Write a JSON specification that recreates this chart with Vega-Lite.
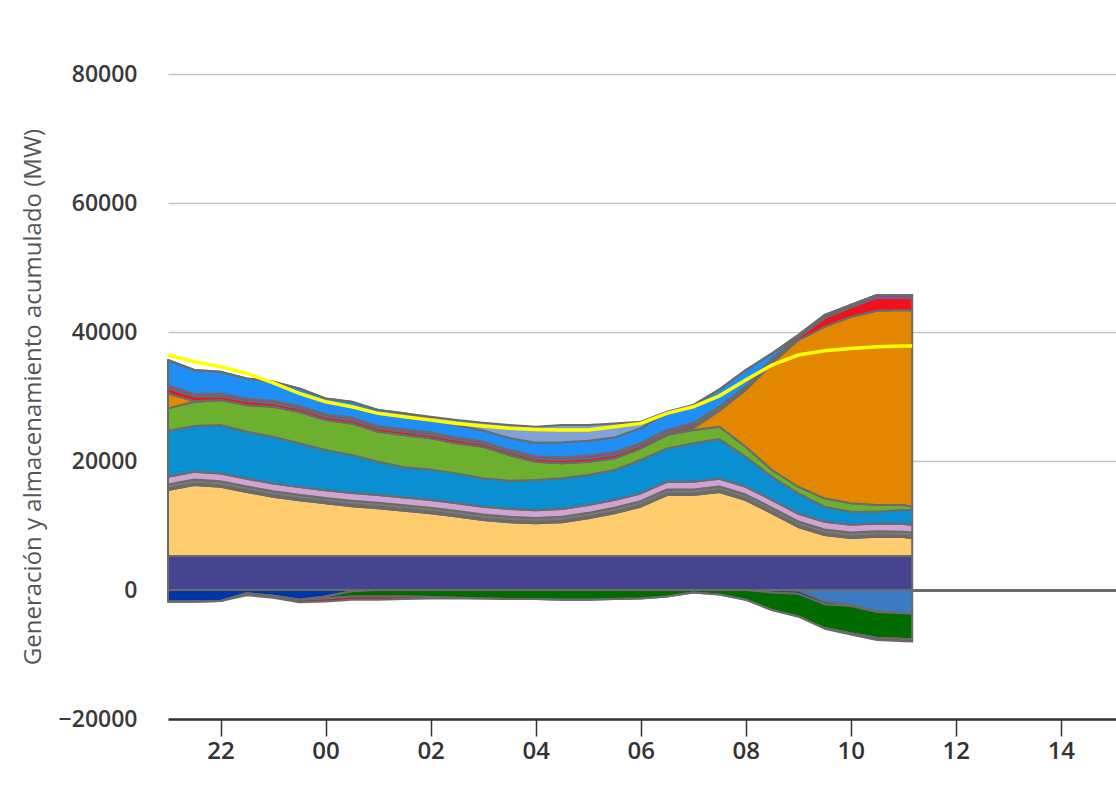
{
  "$schema": "https://vega.github.io/schema/vega-lite/v6.json",
  "width": 948,
  "height": 645,
  "autosize": "none",
  "padding": {"left": 168, "top": 74, "right": 0, "bottom": 75},
  "background": "white",
  "datasets": {
    "pos": [
      {"h":21,"s":"a","v":5270},{"h":21,"s":"b","v":10230},{"h":21,"s":"c","v":250},{"h":21,"s":"d","v":600},{"h":21,"s":"e","v":1200},{"h":21,"s":"f","v":7150},{"h":21,"s":"g","v":3460},{"h":21,"s":"h","v":2300},{"h":21,"s":"i","v":800},{"h":21,"s":"j","v":500},{"h":21,"s":"k","v":3890},{"h":21,"s":"l","v":0},
      {"h":21.5,"s":"a","v":5270},{"h":21.5,"s":"b","v":11000},{"h":21.5,"s":"c","v":250},{"h":21.5,"s":"d","v":600},{"h":21.5,"s":"e","v":1200},{"h":21.5,"s":"f","v":7100},{"h":21.5,"s":"g","v":3770},{"h":21.5,"s":"h","v":100},{"h":21.5,"s":"i","v":700},{"h":21.5,"s":"j","v":400},{"h":21.5,"s":"k","v":3710},{"h":21.5,"s":"l","v":0},
      {"h":22,"s":"a","v":5270},{"h":22,"s":"b","v":10730},{"h":22,"s":"c","v":250},{"h":22,"s":"d","v":600},{"h":22,"s":"e","v":1200},{"h":22,"s":"f","v":7530},{"h":22,"s":"g","v":3870},{"h":22,"s":"h","v":0},{"h":22,"s":"i","v":600},{"h":22,"s":"j","v":400},{"h":22,"s":"k","v":3390},{"h":22,"s":"l","v":0},
      {"h":22.5,"s":"a","v":5270},{"h":22.5,"s":"b","v":9930},{"h":22.5,"s":"c","v":250},{"h":22.5,"s":"d","v":600},{"h":22.5,"s":"e","v":1200},{"h":22.5,"s":"f","v":7290},{"h":22.5,"s":"g","v":4140},{"h":22.5,"s":"h","v":0},{"h":22.5,"s":"i","v":600},{"h":22.5,"s":"j","v":400},{"h":22.5,"s":"k","v":3130},{"h":22.5,"s":"l","v":0},
      {"h":23,"s":"a","v":5270},{"h":23,"s":"b","v":9200},{"h":23,"s":"c","v":250},{"h":23,"s":"d","v":600},{"h":23,"s":"e","v":1200},{"h":23,"s":"f","v":7250},{"h":23,"s":"g","v":4640},{"h":23,"s":"h","v":0},{"h":23,"s":"i","v":550},{"h":23,"s":"j","v":400},{"h":23,"s":"k","v":2930},{"h":23,"s":"l","v":0},
      {"h":23.5,"s":"a","v":5270},{"h":23.5,"s":"b","v":8630},{"h":23.5,"s":"c","v":250},{"h":23.5,"s":"d","v":600},{"h":23.5,"s":"e","v":1200},{"h":23.5,"s":"f","v":6790},{"h":23.5,"s":"g","v":4900},{"h":23.5,"s":"h","v":0},{"h":23.5,"s":"i","v":500},{"h":23.5,"s":"j","v":400},{"h":23.5,"s":"k","v":2720},{"h":23.5,"s":"l","v":0},
      {"h":24,"s":"a","v":5270},{"h":24,"s":"b","v":8160},{"h":24,"s":"c","v":250},{"h":24,"s":"d","v":600},{"h":24,"s":"e","v":1200},{"h":24,"s":"f","v":6220},{"h":24,"s":"g","v":4650},{"h":24,"s":"h","v":0},{"h":24,"s":"i","v":500},{"h":24,"s":"j","v":400},{"h":24,"s":"k","v":2460},{"h":24,"s":"l","v":0},
      {"h":24.5,"s":"a","v":5270},{"h":24.5,"s":"b","v":7730},{"h":24.5,"s":"c","v":250},{"h":24.5,"s":"d","v":600},{"h":24.5,"s":"e","v":1200},{"h":24.5,"s":"f","v":5880},{"h":24.5,"s":"g","v":4900},{"h":24.5,"s":"h","v":0},{"h":24.5,"s":"i","v":500},{"h":24.5,"s":"j","v":400},{"h":24.5,"s":"k","v":2460},{"h":24.5,"s":"l","v":0},
      {"h":25,"s":"a","v":5270},{"h":25,"s":"b","v":7390},{"h":25,"s":"c","v":250},{"h":25,"s":"d","v":600},{"h":25,"s":"e","v":1200},{"h":25,"s":"f","v":5180},{"h":25,"s":"g","v":4650},{"h":25,"s":"h","v":0},{"h":25,"s":"i","v":500},{"h":25,"s":"j","v":400},{"h":25,"s":"k","v":2460},{"h":25,"s":"l","v":0},
      {"h":25.5,"s":"a","v":5270},{"h":25.5,"s":"b","v":7030},{"h":25.5,"s":"c","v":250},{"h":25.5,"s":"d","v":600},{"h":25.5,"s":"e","v":1200},{"h":25.5,"s":"f","v":4670},{"h":25.5,"s":"g","v":5010},{"h":25.5,"s":"h","v":0},{"h":25.5,"s":"i","v":500},{"h":25.5,"s":"j","v":400},{"h":25.5,"s":"k","v":2460},{"h":25.5,"s":"l","v":0},
      {"h":26,"s":"a","v":5270},{"h":26,"s":"b","v":6620},{"h":26,"s":"c","v":250},{"h":26,"s":"d","v":600},{"h":26,"s":"e","v":1200},{"h":26,"s":"f","v":4760},{"h":26,"s":"g","v":4810},{"h":26,"s":"h","v":0},{"h":26,"s":"i","v":500},{"h":26,"s":"j","v":400},{"h":26,"s":"k","v":2160},{"h":26,"s":"l","v":300},
      {"h":26.5,"s":"a","v":5270},{"h":26.5,"s":"b","v":6130},{"h":26.5,"s":"c","v":250},{"h":26.5,"s":"d","v":600},{"h":26.5,"s":"e","v":1200},{"h":26.5,"s":"f","v":4630},{"h":26.5,"s":"g","v":4660},{"h":26.5,"s":"h","v":0},{"h":26.5,"s":"i","v":500},{"h":26.5,"s":"j","v":400},{"h":26.5,"s":"k","v":1910},{"h":26.5,"s":"l","v":800},
      {"h":27,"s":"a","v":5270},{"h":27,"s":"b","v":5580},{"h":27,"s":"c","v":250},{"h":27,"s":"d","v":600},{"h":27,"s":"e","v":1200},{"h":27,"s":"f","v":4410},{"h":27,"s":"g","v":4900},{"h":27,"s":"h","v":0},{"h":27,"s":"i","v":450},{"h":27,"s":"j","v":350},{"h":27,"s":"k","v":1720},{"h":27,"s":"l","v":1200},
      {"h":27.5,"s":"a","v":5270},{"h":27.5,"s":"b","v":5230},{"h":27.5,"s":"c","v":250},{"h":27.5,"s":"d","v":600},{"h":27.5,"s":"e","v":1200},{"h":27.5,"s":"f","v":4390},{"h":27.5,"s":"g","v":3990},{"h":27.5,"s":"h","v":0},{"h":27.5,"s":"i","v":450},{"h":27.5,"s":"j","v":350},{"h":27.5,"s":"k","v":1850},{"h":27.5,"s":"l","v":2000},
      {"h":28,"s":"a","v":5270},{"h":28,"s":"b","v":5060},{"h":28,"s":"c","v":250},{"h":28,"s":"d","v":600},{"h":28,"s":"e","v":1200},{"h":28,"s":"f","v":4670},{"h":28,"s":"g","v":2840},{"h":28,"s":"h","v":0},{"h":28,"s":"i","v":450},{"h":28,"s":"j","v":400},{"h":28,"s":"k","v":2100},{"h":28,"s":"l","v":2470},
      {"h":28.5,"s":"a","v":5270},{"h":28.5,"s":"b","v":5230},{"h":28.5,"s":"c","v":250},{"h":28.5,"s":"d","v":600},{"h":28.5,"s":"e","v":1200},{"h":28.5,"s":"f","v":4760},{"h":28.5,"s":"g","v":2330},{"h":28.5,"s":"h","v":0},{"h":28.5,"s":"i","v":500},{"h":28.5,"s":"j","v":450},{"h":28.5,"s":"k","v":2300},{"h":28.5,"s":"l","v":2690},
      {"h":29,"s":"a","v":5270},{"h":29,"s":"b","v":5840},{"h":29,"s":"c","v":250},{"h":29,"s":"d","v":600},{"h":29,"s":"e","v":1200},{"h":29,"s":"f","v":4670},{"h":29,"s":"g","v":2060},{"h":29,"s":"h","v":0},{"h":29,"s":"i","v":500},{"h":29,"s":"j","v":450},{"h":29,"s":"k","v":2300},{"h":29,"s":"l","v":2440},
      {"h":29.5,"s":"a","v":5270},{"h":29.5,"s":"b","v":6630},{"h":29.5,"s":"c","v":250},{"h":29.5,"s":"d","v":600},{"h":29.5,"s":"e","v":1200},{"h":29.5,"s":"f","v":4650},{"h":29.5,"s":"g","v":1810},{"h":29.5,"s":"h","v":0},{"h":29.5,"s":"i","v":500},{"h":29.5,"s":"j","v":450},{"h":29.5,"s":"k","v":2300},{"h":29.5,"s":"l","v":2170},
      {"h":30,"s":"a","v":5270},{"h":30,"s":"b","v":7650},{"h":30,"s":"c","v":250},{"h":30,"s":"d","v":600},{"h":30,"s":"e","v":1200},{"h":30,"s":"f","v":5180},{"h":30,"s":"g","v":1810},{"h":30,"s":"h","v":0},{"h":30,"s":"i","v":450},{"h":30,"s":"j","v":400},{"h":30,"s":"k","v":2280},{"h":30,"s":"l","v":1000},
      {"h":30.5,"s":"a","v":5270},{"h":30.5,"s":"b","v":9460},{"h":30.5,"s":"c","v":250},{"h":30.5,"s":"d","v":600},{"h":30.5,"s":"e","v":1200},{"h":30.5,"s":"f","v":5180},{"h":30.5,"s":"g","v":2070},{"h":30.5,"s":"h","v":0},{"h":30.5,"s":"i","v":400},{"h":30.5,"s":"j","v":400},{"h":30.5,"s":"k","v":2600},{"h":30.5,"s":"l","v":210},
      {"h":31,"s":"a","v":5270},{"h":31,"s":"b","v":9460},{"h":31,"s":"c","v":250},{"h":31,"s":"d","v":600},{"h":31,"s":"e","v":1200},{"h":31,"s":"f","v":5960},{"h":31,"s":"g","v":2060},{"h":31,"s":"h","v":300},{"h":31,"s":"i","v":400},{"h":31,"s":"j","v":400},{"h":31,"s":"k","v":2780},{"h":31,"s":"l","v":0},
      {"h":31.5,"s":"a","v":5270},{"h":31.5,"s":"b","v":9930},{"h":31.5,"s":"c","v":250},{"h":31.5,"s":"d","v":600},{"h":31.5,"s":"e","v":1200},{"h":31.5,"s":"f","v":6150},{"h":31.5,"s":"g","v":1910},{"h":31.5,"s":"h","v":2500},{"h":31.5,"s":"i","v":300},{"h":31.5,"s":"j","v":350},{"h":31.5,"s":"k","v":2640},{"h":31.5,"s":"l","v":0},
      {"h":32,"s":"a","v":5270},{"h":32,"s":"b","v":8680},{"h":32,"s":"c","v":250},{"h":32,"s":"d","v":600},{"h":32,"s":"e","v":1200},{"h":32,"s":"f","v":4660},{"h":32,"s":"g","v":1550},{"h":32,"s":"h","v":8790},{"h":32,"s":"i","v":300},{"h":32,"s":"j","v":300},{"h":32,"s":"k","v":2500},{"h":32,"s":"l","v":0},
      {"h":32.5,"s":"a","v":5270},{"h":32.5,"s":"b","v":6630},{"h":32.5,"s":"c","v":250},{"h":32.5,"s":"d","v":600},{"h":32.5,"s":"e","v":1200},{"h":32.5,"s":"f","v":3610},{"h":32.5,"s":"g","v":1040},{"h":32.5,"s":"h","v":16540},{"h":32.5,"s":"i","v":400},{"h":32.5,"s":"j","v":300},{"h":32.5,"s":"k","v":850},{"h":32.5,"s":"l","v":0},
      {"h":33,"s":"a","v":5270},{"h":33,"s":"b","v":4500},{"h":33,"s":"c","v":250},{"h":33,"s":"d","v":600},{"h":33,"s":"e","v":1200},{"h":33,"s":"f","v":3170},{"h":33,"s":"g","v":1020},{"h":33,"s":"h","v":22740},{"h":33,"s":"i","v":400},{"h":33,"s":"j","v":300},{"h":33,"s":"k","v":80},{"h":33,"s":"l","v":0},
      {"h":33.5,"s":"a","v":5270},{"h":33.5,"s":"b","v":3260},{"h":33.5,"s":"c","v":250},{"h":33.5,"s":"d","v":600},{"h":33.5,"s":"e","v":1200},{"h":33.5,"s":"f","v":2330},{"h":33.5,"s":"g","v":1300},{"h":33.5,"s":"h","v":26600},{"h":33.5,"s":"i","v":1300},{"h":33.5,"s":"j","v":400},{"h":33.5,"s":"k","v":120},{"h":33.5,"s":"l","v":0},
      {"h":34,"s":"a","v":5270},{"h":34,"s":"b","v":2790},{"h":34,"s":"c","v":250},{"h":34,"s":"d","v":600},{"h":34,"s":"e","v":1200},{"h":34,"s":"f","v":2030},{"h":34,"s":"g","v":1300},{"h":34,"s":"h","v":28920},{"h":34,"s":"i","v":1450},{"h":34,"s":"j","v":370},{"h":34,"s":"k","v":0},{"h":34,"s":"l","v":0},
      {"h":34.5,"s":"a","v":5270},{"h":34.5,"s":"b","v":2990},{"h":34.5,"s":"c","v":250},{"h":34.5,"s":"d","v":600},{"h":34.5,"s":"e","v":1200},{"h":34.5,"s":"f","v":1830},{"h":34.5,"s":"g","v":1040},{"h":34.5,"s":"h","v":30110},{"h":34.5,"s":"i","v":2000},{"h":34.5,"s":"j","v":440},{"h":34.5,"s":"k","v":0},{"h":34.5,"s":"l","v":0},
      {"h":35,"s":"a","v":5270},{"h":35,"s":"b","v":2930},{"h":35,"s":"c","v":250},{"h":35,"s":"d","v":600},{"h":35,"s":"e","v":1200},{"h":35,"s":"f","v":2150},{"h":35,"s":"g","v":780},{"h":35,"s":"h","v":30220},{"h":35,"s":"i","v":1900},{"h":35,"s":"j","v":430},{"h":35,"s":"k","v":0},{"h":35,"s":"l","v":0},
      {"h":35.17,"s":"a","v":5270},{"h":35.17,"s":"b","v":2790},{"h":35.17,"s":"c","v":250},{"h":35.17,"s":"d","v":600},{"h":35.17,"s":"e","v":1200},{"h":35.17,"s":"f","v":2290},{"h":35.17,"s":"g","v":510},{"h":35.17,"s":"h","v":30380},{"h":35.17,"s":"i","v":1950},{"h":35.17,"s":"j","v":460},{"h":35.17,"s":"k","v":0},{"h":35.17,"s":"l","v":0}
    ],
    "neg": [
      {"h":21,"s":"m","v":-1},{"h":21,"s":"n","v":-1800},{"h":21,"s":"o","v":-1},{"h":21,"s":"p","v":-1},
      {"h":21.5,"s":"m","v":-1},{"h":21.5,"s":"n","v":-1800},{"h":21.5,"s":"o","v":-1},{"h":21.5,"s":"p","v":-1},
      {"h":22,"s":"m","v":-1},{"h":22,"s":"n","v":-1700},{"h":22,"s":"o","v":-1},{"h":22,"s":"p","v":-1},
      {"h":22.5,"s":"m","v":-1},{"h":22.5,"s":"n","v":-500},{"h":22.5,"s":"o","v":-1},{"h":22.5,"s":"p","v":-300},
      {"h":23,"s":"m","v":-1},{"h":23,"s":"n","v":-900},{"h":23,"s":"o","v":-1},{"h":23,"s":"p","v":-300},
      {"h":23.5,"s":"m","v":-1},{"h":23.5,"s":"n","v":-1500},{"h":23.5,"s":"o","v":-1},{"h":23.5,"s":"p","v":-400},
      {"h":24,"s":"m","v":-1},{"h":24,"s":"n","v":-1000},{"h":24,"s":"o","v":-300},{"h":24,"s":"p","v":-500},
      {"h":24.5,"s":"m","v":-1},{"h":24.5,"s":"n","v":-200},{"h":24.5,"s":"o","v":-800},{"h":24.5,"s":"p","v":-500},
      {"h":25,"s":"m","v":-1},{"h":25,"s":"n","v":-1},{"h":25,"s":"o","v":-1000},{"h":25,"s":"p","v":-500},
      {"h":25.5,"s":"m","v":-1},{"h":25.5,"s":"n","v":-1},{"h":25.5,"s":"o","v":-1000},{"h":25.5,"s":"p","v":-400},
      {"h":26,"s":"m","v":-1},{"h":26,"s":"n","v":-1},{"h":26,"s":"o","v":-1100},{"h":26,"s":"p","v":-200},
      {"h":26.5,"s":"m","v":-1},{"h":26.5,"s":"n","v":-1},{"h":26.5,"s":"o","v":-1200},{"h":26.5,"s":"p","v":-100},
      {"h":27,"s":"m","v":-1},{"h":27,"s":"n","v":-1},{"h":27,"s":"o","v":-1300},{"h":27,"s":"p","v":-1},
      {"h":27.5,"s":"m","v":-1},{"h":27.5,"s":"n","v":-1},{"h":27.5,"s":"o","v":-1400},{"h":27.5,"s":"p","v":-1},
      {"h":28,"s":"m","v":-1},{"h":28,"s":"n","v":-1},{"h":28,"s":"o","v":-1400},{"h":28,"s":"p","v":-1},
      {"h":28.5,"s":"m","v":-1},{"h":28.5,"s":"n","v":-1},{"h":28.5,"s":"o","v":-1500},{"h":28.5,"s":"p","v":-1},
      {"h":29,"s":"m","v":-1},{"h":29,"s":"n","v":-1},{"h":29,"s":"o","v":-1500},{"h":29,"s":"p","v":-1},
      {"h":29.5,"s":"m","v":-1},{"h":29.5,"s":"n","v":-1},{"h":29.5,"s":"o","v":-1400},{"h":29.5,"s":"p","v":-1},
      {"h":30,"s":"m","v":-1},{"h":30,"s":"n","v":-1},{"h":30,"s":"o","v":-1300},{"h":30,"s":"p","v":-1},
      {"h":30.5,"s":"m","v":-1},{"h":30.5,"s":"n","v":-1},{"h":30.5,"s":"o","v":-1000},{"h":30.5,"s":"p","v":-1},
      {"h":31,"s":"m","v":-1},{"h":31,"s":"n","v":-1},{"h":31,"s":"o","v":-400},{"h":31,"s":"p","v":-1},
      {"h":31.5,"s":"m","v":-1},{"h":31.5,"s":"n","v":-1},{"h":31.5,"s":"o","v":-700},{"h":31.5,"s":"p","v":-1},
      {"h":32,"s":"m","v":-1},{"h":32,"s":"n","v":-1},{"h":32,"s":"o","v":-1500},{"h":32,"s":"p","v":-1},
      {"h":32.5,"s":"m","v":-1},{"h":32.5,"s":"n","v":-400},{"h":32.5,"s":"o","v":-2700},{"h":32.5,"s":"p","v":-1},
      {"h":33,"s":"m","v":-100},{"h":33,"s":"n","v":-500},{"h":33,"s":"o","v":-3500},{"h":33,"s":"p","v":-1},
      {"h":33.5,"s":"m","v":-1800},{"h":33.5,"s":"n","v":-400},{"h":33.5,"s":"o","v":-3700},{"h":33.5,"s":"p","v":-100},
      {"h":34,"s":"m","v":-2300},{"h":34,"s":"n","v":-200},{"h":34,"s":"o","v":-4200},{"h":34,"s":"p","v":-200},
      {"h":34.5,"s":"m","v":-3300},{"h":34.5,"s":"n","v":-100},{"h":34.5,"s":"o","v":-4000},{"h":34.5,"s":"p","v":-350},
      {"h":35,"s":"m","v":-3600},{"h":35,"s":"n","v":-1},{"h":35,"s":"o","v":-4000},{"h":35,"s":"p","v":-350},
      {"h":35.17,"s":"m","v":-3700},{"h":35.17,"s":"n","v":-1},{"h":35.17,"s":"o","v":-3900},{"h":35.17,"s":"p","v":-400}
    ],
    "dem": [
      {"h":21,"d":36430},{"h":21.5,"d":35390},{"h":22,"d":34610},{"h":22.5,"d":33590},{"h":23,"d":32130},{"h":23.5,"d":30490},
      {"h":24,"d":29190},{"h":24.5,"d":28410},{"h":25,"d":27390},{"h":25.5,"d":26870},{"h":26,"d":26350},{"h":26.5,"d":25830},
      {"h":27,"d":25420},{"h":27.5,"d":25060},{"h":28,"d":24900},{"h":28.5,"d":24800},{"h":29,"d":24800},{"h":29.5,"d":25310},
      {"h":30,"d":25830},{"h":30.5,"d":27390},{"h":31,"d":28410},{"h":31.5,"d":30100},{"h":32,"d":32550},{"h":32.5,"d":34880},
      {"h":33,"d":36430},{"h":33.5,"d":37090},{"h":34,"d":37460},{"h":34.5,"d":37710},{"h":35,"d":37820},{"h":35.17,"d":37820}
    ]
  },
  "encoding": {
    "x": {
      "field": "h",
      "type": "quantitative",
      "title": null,
      "scale": {"domain": [21, 39.05], "nice": false, "zero": false},
      "axis": {
        "values": [22, 24, 26, 28, 30, 32, 34, 36, 38],
        "labelExpr": "slice('0' + (datum.value % 24), -2)"
      }
    }
  },
  "layer": [
    {
      "data": {"name": "pos"},
      "mark": {"type": "area", "stroke": "#6b6b6b", "strokeWidth": 2, "strokeJoin": "round"},
      "encoding": {
        "y": {
          "field": "v",
          "type": "quantitative",
          "stack": "zero",
          "title": "Generación y almacenamiento acumulado (MW)",
          "scale": {"domain": [-20000, 80000], "nice": false},
          "axis": {
            "values": [-20000, 0, 20000, 40000, 60000, 80000],
            "format": "d",
            "gridColor": {"condition": {"test": "datum.value === 0", "value": "#6b6b6b"}, "value": "#c4c4c4"},
            "gridWidth": {"condition": {"test": "datum.value === 0", "value": 3}, "value": 1.5}
          }
        },
        "color": {
          "field": "s",
          "type": "nominal",
          "legend": null,
          "scale": {
            "domain": ["a","b","c","d","e","f","g","h","i","j","k","l","m","n","o","p"],
            "range": ["#47448f","#ffcc6e","#9c8a3a","#7a7a7a","#d1a3d0","#0a90d2","#6daf2e","#e38600","#f0101e","#9a30cf","#1f8ff5","#7fa2d7","#3a7bc4","#0035a8","#016b00","#b5232f"]
          }
        },
        "order": {"field": "s", "sort": "ascending"}
      }
    },
    {
      "data": {"name": "neg"},
      "mark": {"type": "area", "stroke": "#6b6b6b", "strokeWidth": 2, "strokeJoin": "round"},
      "encoding": {
        "y": {
          "field": "v",
          "type": "quantitative",
          "stack": "zero",
          "title": "Generación y almacenamiento acumulado (MW)",
          "scale": {"domain": [-20000, 80000], "nice": false},
          "axis": {
            "values": [-20000, 0, 20000, 40000, 60000, 80000],
            "format": "d",
            "gridColor": {"condition": {"test": "datum.value === 0", "value": "#6b6b6b"}, "value": "#c4c4c4"},
            "gridWidth": {"condition": {"test": "datum.value === 0", "value": 3}, "value": 1.5}
          }
        },
        "color": {
          "field": "s",
          "type": "nominal",
          "legend": null,
          "scale": {
            "domain": ["a","b","c","d","e","f","g","h","i","j","k","l","m","n","o","p"],
            "range": ["#47448f","#ffcc6e","#9c8a3a","#7a7a7a","#d1a3d0","#0a90d2","#6daf2e","#e38600","#f0101e","#9a30cf","#1f8ff5","#7fa2d7","#3a7bc4","#0035a8","#016b00","#b5232f"]
          }
        },
        "order": {"field": "s", "sort": "ascending"}
      }
    },
    {
      "data": {"name": "dem"},
      "mark": {"type": "line", "color": "#ffff00", "strokeWidth": 3.5},
      "encoding": {
        "y": {
          "field": "d",
          "type": "quantitative",
          "title": "Generación y almacenamiento acumulado (MW)",
          "scale": {"domain": [-20000, 80000], "nice": false}
        }
      }
    }
  ],
  "config": {
    "view": {"stroke": null},
    "axisX": {
      "grid": false,
      "domainColor": "#333333",
      "domainWidth": 2.5,
      "tickColor": "#333333",
      "tickWidth": 1.5,
      "tickSize": 17,
      "labelFont": "Open Sans",
      "labelFontWeight": 600,
      "labelFontSize": 24,
      "labelColor": "#333333",
      "labelPadding": 3
    },
    "axisY": {
      "domain": false,
      "ticks": false,
      "labelFont": "Open Sans",
      "labelFontWeight": 600,
      "labelFontSize": 23,
      "labelColor": "#3a3a3a",
      "labelPadding": 31,
      "titleFont": "Open Sans",
      "titleFontSize": 24,
      "titleFontWeight": "normal",
      "titleColor": "#555555",
      "titlePadding": 13
    }
  }
}
